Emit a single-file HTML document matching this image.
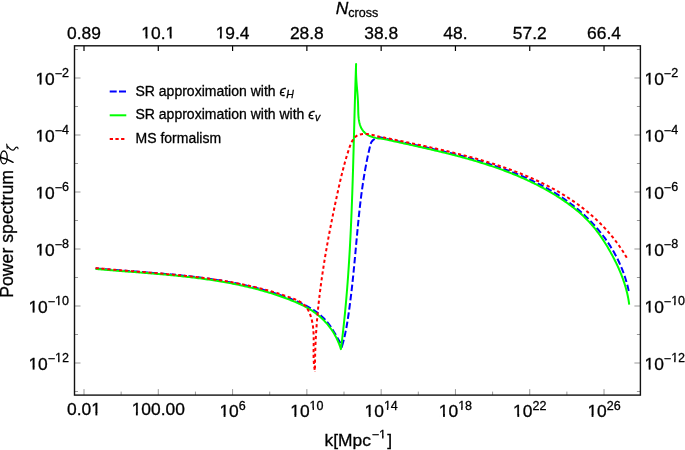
<!DOCTYPE html>
<html><head><meta charset="utf-8"><style>
html,body{margin:0;padding:0;background:#fff;width:685px;height:450px;overflow:hidden;font-family:"Liberation Sans", sans-serif;}
svg{display:block;will-change:transform}
text{stroke:#000;stroke-width:0.3px}
</style></head><body>
<svg width="685" height="450" viewBox="0 0 685 450" font-family='"Liberation Sans", sans-serif'>
<rect width="685" height="450" fill="#fff"/>
<line x1="84.00" y1="395.1" x2="84.00" y2="389.1" stroke="#999" stroke-width="1"/>
<line x1="84.00" y1="45.8" x2="84.00" y2="51.0" stroke="#000" stroke-width="1.2"/>
<line x1="121.15" y1="395.1" x2="121.15" y2="391.6" stroke="#999" stroke-width="1"/>
<line x1="158.29" y1="395.1" x2="158.29" y2="389.1" stroke="#999" stroke-width="1"/>
<line x1="158.29" y1="45.8" x2="158.29" y2="51.0" stroke="#000" stroke-width="1.2"/>
<line x1="195.44" y1="395.1" x2="195.44" y2="391.6" stroke="#999" stroke-width="1"/>
<line x1="232.58" y1="395.1" x2="232.58" y2="389.1" stroke="#999" stroke-width="1"/>
<line x1="232.58" y1="45.8" x2="232.58" y2="51.0" stroke="#000" stroke-width="1.2"/>
<line x1="269.73" y1="395.1" x2="269.73" y2="391.6" stroke="#999" stroke-width="1"/>
<line x1="306.87" y1="395.1" x2="306.87" y2="389.1" stroke="#999" stroke-width="1"/>
<line x1="306.87" y1="45.8" x2="306.87" y2="51.0" stroke="#000" stroke-width="1.2"/>
<line x1="344.01" y1="395.1" x2="344.01" y2="391.6" stroke="#999" stroke-width="1"/>
<line x1="381.16" y1="395.1" x2="381.16" y2="389.1" stroke="#999" stroke-width="1"/>
<line x1="381.16" y1="45.8" x2="381.16" y2="51.0" stroke="#000" stroke-width="1.2"/>
<line x1="418.31" y1="395.1" x2="418.31" y2="391.6" stroke="#999" stroke-width="1"/>
<line x1="455.45" y1="395.1" x2="455.45" y2="389.1" stroke="#999" stroke-width="1"/>
<line x1="455.45" y1="45.8" x2="455.45" y2="51.0" stroke="#000" stroke-width="1.2"/>
<line x1="492.60" y1="395.1" x2="492.60" y2="391.6" stroke="#999" stroke-width="1"/>
<line x1="529.74" y1="395.1" x2="529.74" y2="389.1" stroke="#999" stroke-width="1"/>
<line x1="529.74" y1="45.8" x2="529.74" y2="51.0" stroke="#000" stroke-width="1.2"/>
<line x1="566.88" y1="395.1" x2="566.88" y2="391.6" stroke="#999" stroke-width="1"/>
<line x1="604.03" y1="395.1" x2="604.03" y2="389.1" stroke="#999" stroke-width="1"/>
<line x1="604.03" y1="45.8" x2="604.03" y2="51.0" stroke="#000" stroke-width="1.2"/>
<line x1="74.5" y1="49.50" x2="78.0" y2="49.50" stroke="#999" stroke-width="1"/>
<line x1="640.4" y1="49.50" x2="636.9" y2="49.50" stroke="#999" stroke-width="1"/>
<line x1="74.5" y1="78.00" x2="80.5" y2="78.00" stroke="#999" stroke-width="1"/>
<line x1="640.4" y1="78.00" x2="634.4" y2="78.00" stroke="#999" stroke-width="1"/>
<line x1="74.5" y1="106.50" x2="78.0" y2="106.50" stroke="#999" stroke-width="1"/>
<line x1="640.4" y1="106.50" x2="636.9" y2="106.50" stroke="#999" stroke-width="1"/>
<line x1="74.5" y1="135.00" x2="80.5" y2="135.00" stroke="#999" stroke-width="1"/>
<line x1="640.4" y1="135.00" x2="634.4" y2="135.00" stroke="#999" stroke-width="1"/>
<line x1="74.5" y1="163.50" x2="78.0" y2="163.50" stroke="#999" stroke-width="1"/>
<line x1="640.4" y1="163.50" x2="636.9" y2="163.50" stroke="#999" stroke-width="1"/>
<line x1="74.5" y1="192.00" x2="80.5" y2="192.00" stroke="#999" stroke-width="1"/>
<line x1="640.4" y1="192.00" x2="634.4" y2="192.00" stroke="#999" stroke-width="1"/>
<line x1="74.5" y1="220.50" x2="78.0" y2="220.50" stroke="#999" stroke-width="1"/>
<line x1="640.4" y1="220.50" x2="636.9" y2="220.50" stroke="#999" stroke-width="1"/>
<line x1="74.5" y1="249.00" x2="80.5" y2="249.00" stroke="#999" stroke-width="1"/>
<line x1="640.4" y1="249.00" x2="634.4" y2="249.00" stroke="#999" stroke-width="1"/>
<line x1="74.5" y1="277.50" x2="78.0" y2="277.50" stroke="#999" stroke-width="1"/>
<line x1="640.4" y1="277.50" x2="636.9" y2="277.50" stroke="#999" stroke-width="1"/>
<line x1="74.5" y1="306.00" x2="80.5" y2="306.00" stroke="#999" stroke-width="1"/>
<line x1="640.4" y1="306.00" x2="634.4" y2="306.00" stroke="#999" stroke-width="1"/>
<line x1="74.5" y1="334.50" x2="78.0" y2="334.50" stroke="#999" stroke-width="1"/>
<line x1="640.4" y1="334.50" x2="636.9" y2="334.50" stroke="#999" stroke-width="1"/>
<line x1="74.5" y1="363.00" x2="80.5" y2="363.00" stroke="#999" stroke-width="1"/>
<line x1="640.4" y1="363.00" x2="634.4" y2="363.00" stroke="#999" stroke-width="1"/>
<line x1="74.5" y1="391.50" x2="78.0" y2="391.50" stroke="#999" stroke-width="1"/>
<line x1="640.4" y1="391.50" x2="636.9" y2="391.50" stroke="#999" stroke-width="1"/>
<rect x="74.5" y="45.8" width="565.90" height="349.30" fill="none" stroke="#111" stroke-width="1.4"/>
<path d="M95.60,268.40 97.10,268.53 98.60,268.66 100.10,268.79 101.60,268.92 103.10,269.04 104.60,269.17 106.10,269.29 107.61,269.41 109.11,269.53 110.62,269.65 112.13,269.77 113.63,269.89 115.14,270.01 116.65,270.12 118.16,270.24 119.67,270.35 121.18,270.47 122.69,270.58 124.20,270.70 125.71,270.81 127.22,270.92 128.74,271.04 130.25,271.15 131.76,271.26 133.28,271.37 134.79,271.49 136.31,271.60 137.82,271.71 139.34,271.83 140.85,271.94 142.37,272.06 143.89,272.17 145.40,272.29 146.92,272.41 148.44,272.52 149.95,272.64 151.47,272.76 152.99,272.88 154.50,273.01 156.02,273.13 157.54,273.25 159.06,273.38 160.57,273.51 162.09,273.63 163.61,273.76 165.12,273.90 166.64,274.03 168.16,274.16 169.67,274.30 171.19,274.44 172.71,274.58 174.22,274.73 175.74,274.87 177.25,275.02 178.77,275.17 180.28,275.32 181.80,275.47 183.31,275.63 184.82,275.79 186.34,275.95 187.85,276.12 189.36,276.29 190.87,276.46 192.38,276.63 193.90,276.81 195.41,276.99 196.91,277.17 198.42,277.36 199.93,277.55 201.44,277.75 202.95,277.94 204.45,278.14 205.96,278.35 207.46,278.56 208.96,278.77 210.47,278.98 211.97,279.20 213.47,279.43 214.97,279.65 216.47,279.89 217.97,280.12 219.47,280.36 220.96,280.61 222.46,280.86 223.95,281.11 225.45,281.37 226.94,281.64 228.43,281.90 229.92,282.18 231.41,282.46 232.90,282.74 234.38,283.03 235.87,283.32 237.35,283.62 238.84,283.92 240.32,284.23 241.80,284.55 243.28,284.87 244.75,285.19 246.23,285.52 247.70,285.86 249.18,286.20 250.65,286.55 252.12,286.91 253.59,287.27 255.06,287.64 256.52,288.01 257.99,288.39 259.45,288.78 260.91,289.17 262.37,289.57 263.83,289.97 265.28,290.39 266.74,290.81 268.19,291.23 269.64,291.66 271.09,292.10 272.53,292.55 273.98,293.00 275.42,293.47 276.86,293.93 278.30,294.41 279.74,294.89 281.18,295.38 282.61,295.88 284.04,296.39 285.47,296.90 286.90,297.42 288.33,297.95 289.75,298.49 291.17,299.03 292.59,299.59 294.00,300.15 295.41,300.72 296.82,301.31 298.21,301.91 299.60,302.52 300.99,303.15 302.36,303.79 303.72,304.45 305.07,305.12 306.41,305.82 307.74,306.53 309.05,307.26 310.35,308.02 311.64,308.79 312.91,309.59 314.16,310.41 315.39,311.26 316.60,312.13 317.80,313.03 318.97,313.95 320.12,314.90 321.25,315.89 322.36,316.90 323.44,317.95 324.50,319.02 325.53,320.13 326.54,321.27 327.51,322.45 328.46,323.66 329.39,324.90 330.29,326.17 331.17,327.46 332.02,328.77 332.86,330.09 333.69,331.43 334.49,332.77 335.29,334.12 336.07,335.46 336.84,336.81 337.60,338.14 338.36,339.47 339.11,340.78 339.86,342.07 340.60,343.34 341.35,344.59 342.10,345.80 342.53,344.36 342.95,342.91 343.34,341.46 343.72,340.00 344.09,338.54 344.44,337.07 344.78,335.60 345.10,334.13 345.41,332.65 345.71,331.17 346.00,329.69 346.28,328.21 346.55,326.72 346.82,325.23 347.07,323.74 347.32,322.25 347.56,320.75 347.79,319.25 348.02,317.76 348.24,316.26 348.46,314.76 348.68,313.26 348.89,311.76 349.11,310.25 349.31,308.75 349.52,307.25 349.72,305.74 349.92,304.24 350.11,302.73 350.30,301.22 350.49,299.72 350.68,298.21 350.86,296.70 351.05,295.19 351.23,293.68 351.40,292.17 351.58,290.66 351.75,289.15 351.92,287.64 352.09,286.13 352.26,284.62 352.42,283.10 352.58,281.59 352.74,280.08 352.90,278.56 353.06,277.05 353.21,275.53 353.37,274.02 353.52,272.51 353.67,270.99 353.82,269.47 353.97,267.96 354.12,266.44 354.26,264.93 354.41,263.41 354.55,261.90 354.70,260.38 354.84,258.86 354.98,257.35 355.12,255.83 355.26,254.31 355.40,252.80 355.54,251.28 355.68,249.76 355.82,248.25 355.96,246.73 356.10,245.22 356.23,243.70 356.37,242.18 356.51,240.67 356.65,239.15 356.79,237.64 356.93,236.12 357.07,234.61 357.21,233.09 357.35,231.58 357.50,230.06 357.64,228.55 357.79,227.04 357.93,225.52 358.08,224.01 358.23,222.50 358.38,220.98 358.53,219.47 358.68,217.96 358.84,216.45 359.00,214.94 359.16,213.42 359.32,211.91 359.48,210.40 359.65,208.89 359.82,207.38 359.99,205.87 360.16,204.37 360.34,202.86 360.52,201.35 360.70,199.84 360.89,198.34 361.07,196.83 361.27,195.32 361.46,193.82 361.66,192.31 361.86,190.81 362.07,189.31 362.28,187.80 362.49,186.30 362.71,184.80 362.93,183.30 363.16,181.80 363.39,180.30 363.62,178.80 363.86,177.30 364.10,175.80 364.35,174.30 364.61,172.81 364.86,171.31 365.13,169.81 365.39,168.32 365.67,166.83 365.95,165.33 366.23,163.84 366.52,162.35 366.82,160.86 367.12,159.37 367.42,157.88 367.74,156.39 368.05,154.91 368.38,153.42 368.71,151.93 369.05,150.45 369.39,148.96 369.74,147.48 370.10,146.00 370.29,144.90 370.58,143.87 370.98,142.91 371.47,142.02 372.04,141.21 372.69,140.48 373.41,139.82 374.20,139.25 375.05,138.75 375.94,138.34 376.87,138.01 377.84,137.77 378.84,137.61 379.86,137.54 380.89,137.57 381.93,137.68 382.96,137.89 383.99,138.20 385.00,138.60 386.47,138.91 387.95,139.23 389.42,139.54 390.90,139.85 392.37,140.17 393.84,140.48 395.32,140.79 396.79,141.10 398.27,141.42 399.74,141.73 401.22,142.04 402.69,142.36 404.17,142.67 405.64,142.98 407.11,143.30 408.59,143.61 410.06,143.93 411.54,144.24 413.01,144.56 414.48,144.88 415.96,145.20 417.43,145.52 418.91,145.84 420.38,146.16 421.85,146.48 423.32,146.81 424.80,147.13 426.27,147.46 427.74,147.79 429.21,148.12 430.69,148.45 432.16,148.79 433.63,149.12 435.10,149.46 436.57,149.80 438.04,150.14 439.51,150.49 440.98,150.83 442.45,151.18 443.91,151.53 445.38,151.88 446.85,152.24 448.32,152.60 449.78,152.96 451.25,153.32 452.71,153.69 454.18,154.06 455.64,154.43 457.11,154.81 458.57,155.19 460.03,155.57 461.50,155.96 462.96,156.34 464.42,156.74 465.88,157.13 467.34,157.53 468.80,157.93 470.25,158.34 471.71,158.75 473.17,159.17 474.62,159.58 476.08,160.01 477.53,160.43 478.99,160.86 480.44,161.30 481.89,161.74 483.34,162.18 484.79,162.63 486.24,163.08 487.69,163.54 489.14,164.00 490.59,164.47 492.03,164.94 493.48,165.42 494.92,165.90 496.36,166.39 497.80,166.88 499.24,167.38 500.68,167.88 502.12,168.39 503.55,168.90 504.98,169.42 506.41,169.95 507.84,170.48 509.27,171.01 510.69,171.56 512.11,172.10 513.53,172.66 514.95,173.22 516.36,173.79 517.77,174.36 519.18,174.94 520.58,175.53 521.98,176.12 523.38,176.72 524.77,177.33 526.16,177.94 527.55,178.57 528.93,179.19 530.31,179.83 531.68,180.47 533.05,181.12 534.42,181.78 535.78,182.44 537.14,183.12 538.49,183.80 539.84,184.48 541.18,185.18 542.52,185.88 543.86,186.59 545.19,187.31 546.51,188.04 547.83,188.78 549.14,189.52 550.45,190.28 551.75,191.04 553.04,191.81 554.33,192.58 555.61,193.37 556.89,194.17 558.16,194.97 559.43,195.79 560.69,196.61 561.94,197.44 563.18,198.28 564.42,199.14 565.65,200.00 566.88,200.87 568.09,201.75 569.30,202.64 570.51,203.53 571.70,204.44 572.89,205.36 574.07,206.29 575.24,207.23 576.41,208.18 577.56,209.14 578.71,210.11 579.85,211.09 580.98,212.08 582.11,213.08 583.22,214.08 584.33,215.10 585.42,216.13 586.51,217.17 587.59,218.22 588.66,219.28 589.71,220.34 590.76,221.42 591.80,222.51 592.83,223.60 593.85,224.71 594.86,225.82 595.86,226.95 596.85,228.08 597.82,229.22 598.79,230.37 599.74,231.53 600.69,232.70 601.62,233.88 602.54,235.07 603.45,236.27 604.35,237.47 605.23,238.69 606.11,239.91 606.97,241.14 607.82,242.38 608.66,243.63 609.48,244.89 610.29,246.15 611.09,247.43 611.88,248.71 612.65,250.00 613.41,251.30 614.15,252.61 614.89,253.93 615.61,255.25 616.31,256.58 617.00,257.92 617.68,259.27 618.34,260.63 618.99,261.99 619.62,263.37 620.24,264.75 620.84,266.13 621.43,267.53 622.00,268.93 622.56,270.34 623.10,271.76 623.63,273.19 624.14,274.62 624.64,276.07 625.12,277.51 625.58,278.97 626.03,280.43 626.46,281.91 626.87,283.38 627.27,284.87 627.65,286.36 628.01,287.86 628.36,289.37 628.69,290.88 629.00,292.40" fill="none" stroke="#0000ff" stroke-width="2" stroke-dasharray="6.5,2.8"/>
<path d="M95.60,268.90 97.10,269.04 98.59,269.17 100.09,269.30 101.59,269.44 103.09,269.57 104.59,269.70 106.09,269.82 107.59,269.95 109.09,270.08 110.60,270.20 112.10,270.32 113.61,270.45 115.11,270.57 116.62,270.69 118.13,270.81 119.64,270.93 121.14,271.05 122.65,271.17 124.16,271.28 125.68,271.40 127.19,271.52 128.70,271.64 130.21,271.75 131.72,271.87 133.24,271.99 134.75,272.11 136.27,272.22 137.78,272.34 139.29,272.46 140.81,272.58 142.33,272.70 143.84,272.82 145.36,272.94 146.87,273.06 148.39,273.18 149.91,273.30 151.42,273.43 152.94,273.55 154.46,273.68 155.97,273.81 157.49,273.94 159.01,274.07 160.53,274.20 162.04,274.33 163.56,274.46 165.08,274.60 166.59,274.74 168.11,274.88 169.63,275.02 171.14,275.16 172.66,275.31 174.17,275.46 175.69,275.60 177.20,275.76 178.72,275.91 180.23,276.07 181.75,276.23 183.26,276.39 184.77,276.55 186.29,276.72 187.80,276.89 189.31,277.06 190.82,277.24 192.33,277.42 193.84,277.60 195.35,277.78 196.86,277.97 198.37,278.16 199.88,278.36 201.38,278.56 202.89,278.76 204.39,278.96 205.90,279.17 207.40,279.39 208.91,279.60 210.41,279.82 211.91,280.05 213.41,280.28 214.91,280.51 216.40,280.75 217.90,280.99 219.40,281.23 220.89,281.48 222.39,281.74 223.88,282.00 225.37,282.26 226.86,282.53 228.35,282.80 229.84,283.08 231.32,283.36 232.81,283.65 234.29,283.95 235.78,284.25 237.26,284.55 238.74,284.86 240.22,285.17 241.69,285.49 243.17,285.82 244.64,286.15 246.12,286.49 247.59,286.83 249.06,287.18 250.52,287.54 251.99,287.90 253.46,288.26 254.92,288.64 256.38,289.02 257.84,289.40 259.30,289.79 260.75,290.19 262.21,290.60 263.66,291.01 265.11,291.43 266.56,291.85 268.01,292.29 269.45,292.72 270.89,293.17 272.34,293.62 273.77,294.08 275.21,294.55 276.65,295.03 278.08,295.51 279.51,296.00 280.94,296.50 282.36,297.00 283.79,297.51 285.21,298.03 286.63,298.56 288.05,299.10 289.46,299.64 290.88,300.20 292.29,300.76 293.69,301.33 295.09,301.91 296.49,302.50 297.88,303.11 299.26,303.73 300.63,304.37 302.00,305.02 303.35,305.69 304.70,306.38 306.03,307.09 307.35,307.82 308.66,308.57 309.95,309.34 311.23,310.14 312.50,310.96 313.74,311.81 314.97,312.68 316.18,313.58 317.38,314.51 318.55,315.46 319.70,316.43 320.84,317.44 321.95,318.46 323.04,319.51 324.11,320.59 325.15,321.69 326.17,322.81 327.17,323.95 328.14,325.12 329.08,326.31 330.00,327.52 330.90,328.75 331.77,330.00 332.61,331.27 333.42,332.55 334.21,333.85 334.96,335.17 335.69,336.51 336.39,337.86 337.06,339.22 337.70,340.60 338.31,341.99 338.89,343.39 339.44,344.80 339.96,346.23 340.45,347.66 340.90,349.10 341.10,347.60 341.29,346.10 341.47,344.60 341.66,343.10 341.85,341.60 342.03,340.11 342.21,338.61 342.39,337.11 342.56,335.60 342.74,334.10 342.91,332.60 343.08,331.10 343.25,329.60 343.41,328.10 343.58,326.60 343.74,325.10 343.90,323.60 344.06,322.09 344.22,320.59 344.37,319.09 344.53,317.59 344.68,316.08 344.83,314.58 344.97,313.08 345.12,311.58 345.26,310.07 345.41,308.57 345.55,307.06 345.69,305.56 345.82,304.06 345.96,302.55 346.09,301.05 346.23,299.54 346.36,298.04 346.49,296.53 346.61,295.03 346.74,293.52 346.86,292.02 346.99,290.51 347.11,289.01 347.23,287.50 347.34,286.00 347.46,284.49 347.58,282.99 347.69,281.48 347.80,279.97 347.91,278.47 348.02,276.96 348.13,275.45 348.24,273.95 348.34,272.44 348.44,270.93 348.55,269.43 348.65,267.92 348.75,266.41 348.84,264.90 348.94,263.40 349.04,261.89 349.13,260.38 349.22,258.87 349.32,257.36 349.41,255.86 349.50,254.35 349.58,252.84 349.67,251.33 349.76,249.82 349.84,248.31 349.93,246.80 350.01,245.29 350.09,243.79 350.17,242.28 350.25,240.77 350.33,239.26 350.40,237.75 350.48,236.24 350.55,234.73 350.63,233.22 350.70,231.71 350.77,230.20 350.84,228.69 350.91,227.18 350.98,225.67 351.05,224.16 351.12,222.65 351.19,221.14 351.25,219.63 351.32,218.12 351.38,216.61 351.44,215.10 351.51,213.59 351.57,212.08 351.63,210.57 351.69,209.06 351.75,207.54 351.80,206.03 351.86,204.52 351.92,203.01 351.98,201.50 352.03,199.99 352.09,198.48 352.14,196.97 352.19,195.46 352.25,193.94 352.30,192.43 352.35,190.92 352.40,189.41 352.45,187.90 352.50,186.39 352.55,184.88 352.60,183.36 352.65,181.85 352.70,180.34 352.74,178.83 352.79,177.32 352.84,175.81 352.88,174.30 352.93,172.78 352.98,171.27 353.02,169.76 353.07,168.25 353.11,166.74 353.15,165.23 353.20,163.71 353.24,162.20 353.28,160.69 353.33,159.18 353.37,157.67 353.41,156.15 353.45,154.64 353.50,153.13 353.54,151.62 353.58,150.11 353.62,148.60 353.66,147.08 353.70,145.57 353.74,144.06 353.78,142.55 353.82,141.04 353.86,139.53 353.90,138.01 353.94,136.50 353.98,134.99 354.02,133.48 354.07,131.97 354.11,130.46 354.15,128.94 354.19,127.43 354.23,125.92 354.27,124.41 354.31,122.90 354.35,121.39 354.39,119.88 354.43,118.36 354.47,116.85 354.51,115.34 354.55,113.83 354.59,112.32 354.63,110.81 354.68,109.30 354.72,107.79 354.76,106.28 354.80,104.77 354.85,103.25 354.89,101.74 354.93,100.23 354.98,98.72 355.02,97.21 355.06,95.70 355.11,94.19 355.15,92.68 355.20,91.17 355.25,89.66 355.29,88.15 355.34,86.64 355.39,85.13 355.43,83.62 355.48,82.11 355.53,80.60 355.58,79.09 355.63,77.58 355.68,76.07 355.73,74.56 355.78,73.05 355.83,71.54 355.88,70.04 355.94,68.53 355.99,67.02 356.05,65.51 356.10,64.00 356.04,65.63 356.00,67.24 355.99,68.84 355.99,70.41 356.01,71.97 356.05,73.51 356.10,75.04 356.17,76.55 356.25,78.06 356.34,79.56 356.43,81.05 356.54,82.53 356.65,84.02 356.77,85.49 356.89,86.97 357.02,88.45 357.14,89.93 357.27,91.42 357.39,92.91 357.50,94.41 357.62,95.91 357.72,97.43 357.82,98.96 357.91,100.50 357.99,102.06 358.05,103.63 358.10,105.23 358.14,106.83 358.18,108.46 358.21,110.09 358.25,111.72 358.31,113.35 358.40,114.97 358.51,116.57 358.66,118.16 358.86,119.72 359.11,121.25 359.42,122.75 359.80,124.20 360.25,125.61 360.78,126.97 361.40,128.27 362.12,129.51 362.94,130.68 363.86,131.78 364.88,132.80 365.99,133.75 367.18,134.60 368.46,135.37 369.82,136.05 371.24,136.62 372.73,137.11 374.25,137.52 375.81,137.86 377.39,138.15 378.96,138.40 380.53,138.61 382.06,138.81 383.56,139.00 385.00,139.20 386.45,139.53 387.91,139.85 389.36,140.18 390.82,140.50 392.28,140.83 393.74,141.15 395.20,141.48 396.66,141.80 398.12,142.12 399.59,142.45 401.05,142.77 402.52,143.09 403.98,143.42 405.45,143.74 406.92,144.07 408.39,144.39 409.86,144.72 411.33,145.04 412.80,145.37 414.27,145.70 415.75,146.03 417.22,146.36 418.69,146.69 420.16,147.02 421.64,147.35 423.11,147.68 424.59,148.02 426.06,148.36 427.53,148.69 429.01,149.03 430.48,149.37 431.96,149.72 433.43,150.06 434.91,150.41 436.38,150.76 437.86,151.11 439.33,151.46 440.80,151.81 442.27,152.17 443.75,152.53 445.22,152.89 446.69,153.25 448.16,153.62 449.63,153.99 451.10,154.36 452.57,154.73 454.04,155.11 455.51,155.49 456.97,155.87 458.44,156.26 459.90,156.65 461.37,157.04 462.83,157.44 464.29,157.84 465.75,158.24 467.21,158.65 468.67,159.06 470.13,159.47 471.58,159.89 473.03,160.31 474.49,160.73 475.94,161.16 477.39,161.60 478.84,162.03 480.28,162.47 481.73,162.92 483.17,163.37 484.61,163.82 486.05,164.28 487.49,164.75 488.92,165.22 490.36,165.69 491.79,166.17 493.22,166.65 494.64,167.14 496.07,167.63 497.49,168.13 498.91,168.63 500.33,169.14 501.75,169.65 503.16,170.17 504.57,170.70 505.98,171.23 507.39,171.77 508.79,172.31 510.19,172.86 511.59,173.41 512.98,173.97 514.38,174.54 515.77,175.11 517.15,175.69 518.54,176.27 519.92,176.86 521.30,177.46 522.67,178.06 524.04,178.67 525.41,179.29 526.78,179.91 528.14,180.55 529.50,181.18 530.85,181.83 532.20,182.48 533.55,183.14 534.90,183.81 536.24,184.48 537.57,185.16 538.91,185.85 540.24,186.54 541.56,187.25 542.89,187.96 544.21,188.68 545.52,189.41 546.83,190.14 548.14,190.88 549.44,191.63 550.74,192.39 552.03,193.16 553.33,193.94 554.61,194.72 555.89,195.51 557.17,196.31 558.44,197.12 559.71,197.94 560.98,198.77 562.24,199.61 563.49,200.45 564.74,201.30 565.98,202.17 567.22,203.04 568.45,203.93 569.67,204.82 570.88,205.72 572.09,206.63 573.29,207.56 574.48,208.49 575.66,209.44 576.83,210.39 577.98,211.36 579.13,212.34 580.27,213.33 581.40,214.33 582.51,215.35 583.62,216.37 584.71,217.41 585.78,218.46 586.85,219.52 587.90,220.60 588.93,221.68 589.95,222.79 590.96,223.90 591.95,225.03 592.92,226.17 593.88,227.32 594.83,228.48 595.77,229.65 596.69,230.84 597.60,232.04 598.49,233.24 599.38,234.46 600.25,235.69 601.11,236.92 601.96,238.17 602.79,239.42 603.62,240.69 604.44,241.96 605.24,243.24 606.04,244.52 606.82,245.81 607.60,247.11 608.37,248.42 609.12,249.73 609.87,251.05 610.62,252.38 611.35,253.71 612.08,255.04 612.79,256.38 613.50,257.72 614.20,259.07 614.88,260.43 615.56,261.79 616.23,263.15 616.88,264.52 617.53,265.90 618.16,267.28 618.78,268.66 619.38,270.05 619.98,271.44 620.56,272.84 621.12,274.24 621.68,275.65 622.22,277.06 622.74,278.47 623.25,279.89 623.74,281.31 624.22,282.74 624.68,284.17 625.12,285.61 625.55,287.05 625.96,288.49 626.35,289.94 626.72,291.39 627.08,292.84 627.41,294.30 627.73,295.76 628.03,297.22 628.30,298.69 628.56,300.16 628.79,301.64 629.01,303.12 629.20,304.60" fill="none" stroke="#00ff00" stroke-width="2" stroke-linejoin="round"/>
<path d="M95.60,268.00 97.09,268.15 98.59,268.29 100.08,268.44 101.58,268.58 103.08,268.72 104.57,268.86 106.07,269.00 107.57,269.13 109.07,269.27 110.57,269.40 112.07,269.53 113.57,269.66 115.07,269.79 116.57,269.92 118.07,270.04 119.57,270.17 121.07,270.29 122.58,270.42 124.08,270.54 125.58,270.67 127.09,270.79 128.59,270.91 130.10,271.03 131.60,271.15 133.11,271.27 134.61,271.39 136.12,271.51 137.62,271.63 139.13,271.75 140.63,271.87 142.14,271.99 143.65,272.12 145.15,272.24 146.66,272.36 148.17,272.48 149.67,272.60 151.18,272.72 152.69,272.85 154.19,272.97 155.70,273.10 157.21,273.22 158.71,273.35 160.22,273.48 161.73,273.61 163.23,273.74 164.74,273.87 166.25,274.01 167.75,274.14 169.26,274.28 170.77,274.41 172.27,274.55 173.78,274.69 175.28,274.84 176.79,274.98 178.29,275.13 179.80,275.28 181.30,275.43 182.80,275.58 184.31,275.74 185.81,275.89 187.31,276.05 188.82,276.22 190.32,276.38 191.82,276.55 193.32,276.72 194.82,276.89 196.32,277.07 197.82,277.25 199.32,277.43 200.82,277.61 202.32,277.80 203.82,277.99 205.31,278.19 206.81,278.39 208.31,278.59 209.80,278.79 211.30,279.00 212.79,279.21 214.28,279.43 215.78,279.65 217.27,279.87 218.76,280.10 220.25,280.33 221.74,280.57 223.23,280.81 224.72,281.05 226.20,281.30 227.69,281.55 229.17,281.81 230.66,282.07 232.14,282.34 233.62,282.61 235.11,282.88 236.59,283.17 238.07,283.45 239.55,283.74 241.02,284.04 242.50,284.34 243.98,284.65 245.45,284.96 246.93,285.27 248.40,285.60 249.87,285.92 251.34,286.26 252.81,286.60 254.28,286.94 255.74,287.29 257.21,287.65 258.68,288.01 260.14,288.38 261.60,288.75 263.06,289.14 264.52,289.52 265.98,289.92 267.44,290.32 268.89,290.72 270.35,291.14 271.80,291.55 273.25,291.98 274.70,292.41 276.15,292.85 277.60,293.30 279.04,293.76 280.49,294.22 281.93,294.68 283.37,295.16 284.81,295.64 286.25,296.13 287.68,296.63 289.12,297.14 290.55,297.65 291.98,298.17 293.40,298.71 294.80,299.27 296.18,299.87 297.53,300.49 298.85,301.16 300.12,301.88 301.35,302.66 302.52,303.49 303.63,304.40 304.67,305.37 305.64,306.43 306.54,307.57 307.36,308.78 308.12,310.06 308.81,311.38 309.44,312.76 310.02,314.16 310.54,315.60 311.00,317.05 311.43,318.52 311.80,319.99 312.14,321.48 312.43,322.97 312.69,324.47 312.91,325.98 313.09,327.50 313.25,329.02 313.38,330.55 313.48,332.08 313.57,333.62 313.62,335.16 313.67,336.71 313.69,338.25 313.70,339.80 313.70,341.35 313.69,342.90 313.68,344.45 313.66,345.99 313.63,347.54 313.61,349.08 313.59,350.62 313.58,352.16 313.58,353.69 313.58,355.22 313.60,356.74 313.63,358.26 313.68,359.77 313.75,361.27 313.85,362.76 313.96,364.24 314.11,365.72 314.28,367.18 314.49,368.63 314.72,370.07 315.00,371.50" fill="none" stroke="#ff0000" stroke-width="2" stroke-dasharray="3.2,2.7"/>
<path d="M315.00,371.50 314.99,369.98 314.99,368.47 314.99,366.95 314.99,365.43 315.00,363.92 315.01,362.40 315.03,360.89 315.05,359.37 315.08,357.85 315.11,356.34 315.14,354.82 315.18,353.31 315.22,351.79 315.27,350.28 315.32,348.76 315.38,347.25 315.44,345.73 315.50,344.22 315.57,342.70 315.64,341.19 315.71,339.68 315.79,338.16 315.88,336.65 315.96,335.14 316.06,333.62 316.15,332.11 316.25,330.60 316.35,329.08 316.46,327.57 316.57,326.06 316.68,324.55 316.80,323.04 316.92,321.53 317.04,320.01 317.17,318.50 317.30,316.99 317.44,315.48 317.58,313.97 317.72,312.46 317.86,310.95 318.01,309.44 318.16,307.94 318.32,306.43 318.48,304.92 318.64,303.41 318.80,301.90 318.97,300.40 319.14,298.89 319.32,297.38 319.50,295.88 319.68,294.37 319.86,292.86 320.05,291.36 320.24,289.85 320.43,288.35 320.62,286.84 320.82,285.34 321.02,283.84 321.23,282.33 321.44,280.83 321.65,279.33 321.86,277.83 322.07,276.32 322.29,274.82 322.51,273.32 322.73,271.82 322.96,270.32 323.19,268.82 323.42,267.32 323.65,265.82 323.89,264.33 324.13,262.83 324.37,261.33 324.61,259.83 324.86,258.34 325.10,256.84 325.35,255.34 325.61,253.85 325.86,252.35 326.12,250.86 326.38,249.37 326.64,247.87 326.90,246.38 327.16,244.89 327.43,243.40 327.70,241.90 327.97,240.41 328.25,238.92 328.52,237.43 328.80,235.94 329.08,234.46 329.36,232.97 329.64,231.48 329.92,229.99 330.21,228.51 330.50,227.02 330.79,225.53 331.08,224.05 331.37,222.56 331.67,221.08 331.96,219.60 332.26,218.11 332.56,216.63 332.86,215.15 333.16,213.67 333.47,212.19 333.77,210.71 334.08,209.23 334.38,207.75 334.69,206.27 335.00,204.80 335.32,203.32 335.63,201.84 335.94,200.37 336.26,198.89 336.57,197.42 336.89,195.95 337.21,194.47 337.53,193.00 337.85,191.53 338.17,190.06 338.50,188.59 338.82,187.12 339.15,185.65 339.49,184.18 339.82,182.71 340.16,181.24 340.50,179.76 340.85,178.29 341.20,176.82 341.56,175.35 341.92,173.87 342.29,172.40 342.66,170.92 343.04,169.45 343.42,167.97 343.81,166.49 344.21,165.01 344.61,163.53 345.02,162.05 345.44,160.57 345.87,159.08 346.30,157.59 346.74,156.10 347.19,154.61 347.65,153.12 348.12,151.62 348.60,150.12 349.09,148.62 349.60,147.13 350.13,145.65 350.69,144.20 351.29,142.80 351.94,141.46 352.65,140.19 353.43,139.01 354.29,137.92 355.23,136.95 356.27,136.11 357.41,135.41 358.66,134.86 359.99,134.44 361.41,134.15 362.88,133.98 364.41,133.92 365.97,133.96 367.55,134.10 369.15,134.32 370.74,134.61 372.33,134.96 373.91,135.34 375.47,135.74 377.01,136.14 378.53,136.53 380.01,136.89 381.45,137.20 382.85,137.44 384.20,137.60 385.68,137.91 387.15,138.22 388.63,138.53 390.10,138.83 391.58,139.14 393.06,139.45 394.54,139.76 396.01,140.06 397.49,140.37 398.97,140.68 400.45,140.98 401.93,141.29 403.41,141.60 404.89,141.91 406.37,142.22 407.85,142.53 409.33,142.84 410.81,143.15 412.29,143.46 413.77,143.77 415.25,144.09 416.73,144.40 418.21,144.72 419.69,145.03 421.17,145.35 422.65,145.67 424.13,145.99 425.61,146.31 427.09,146.63 428.57,146.96 430.05,147.28 431.53,147.61 433.01,147.94 434.49,148.27 435.97,148.60 437.45,148.94 438.93,149.28 440.40,149.62 441.88,149.96 443.36,150.30 444.84,150.65 446.31,150.99 447.79,151.34 449.27,151.70 450.74,152.05 452.22,152.41 453.69,152.77 455.17,153.14 456.64,153.50 458.11,153.87 459.59,154.25 461.06,154.62 462.53,155.00 464.00,155.38 465.47,155.77 466.94,156.16 468.41,156.55 469.88,156.95 471.34,157.34 472.81,157.75 474.28,158.15 475.74,158.56 477.20,158.98 478.67,159.40 480.13,159.82 481.59,160.25 483.05,160.68 484.51,161.11 485.97,161.55 487.43,161.99 488.89,162.44 490.34,162.89 491.80,163.35 493.25,163.81 494.70,164.28 496.15,164.75 497.60,165.22 499.05,165.71 500.50,166.19 501.94,166.68 503.39,167.18 504.83,167.68 506.27,168.18 507.70,168.70 509.14,169.21 510.57,169.73 512.00,170.26 513.43,170.80 514.86,171.33 516.28,171.88 517.70,172.43 519.12,172.99 520.54,173.55 521.95,174.12 523.36,174.69 524.77,175.27 526.17,175.86 527.57,176.45 528.97,177.05 530.36,177.66 531.75,178.27 533.14,178.89 534.53,179.51 535.91,180.14 537.28,180.78 538.66,181.43 540.03,182.08 541.39,182.74 542.75,183.40 544.11,184.08 545.46,184.76 546.81,185.45 548.15,186.14 549.49,186.84 550.83,187.55 552.16,188.27 553.49,188.99 554.81,189.73 556.12,190.47 557.43,191.21 558.74,191.97 560.04,192.73 561.34,193.50 562.63,194.28 563.92,195.07 565.20,195.87 566.47,196.67 567.74,197.48 569.00,198.30 570.26,199.13 571.51,199.97 572.76,200.81 574.00,201.67 575.23,202.53 576.46,203.40 577.68,204.28 578.90,205.17 580.11,206.07 581.31,206.98 582.50,207.90 583.69,208.82 584.87,209.75 586.05,210.70 587.22,211.65 588.38,212.61 589.53,213.58 590.67,214.56 591.81,215.55 592.94,216.54 594.06,217.55 595.17,218.56 596.27,219.59 597.37,220.62 598.46,221.66 599.54,222.71 600.61,223.78 601.67,224.85 602.72,225.93 603.76,227.01 604.80,228.11 605.82,229.22 606.84,230.34 607.84,231.46 608.84,232.60 609.82,233.74 610.80,234.90 611.76,236.06 612.72,237.23 613.66,238.42 614.59,239.61 615.52,240.81 616.43,242.02 617.33,243.24 618.22,244.47 619.10,245.71 619.97,246.96 620.83,248.22 621.67,249.49 622.50,250.77 623.33,252.06 624.14,253.36 624.93,254.67 625.72,255.99 626.49,257.31 627.25,258.65 628.00,260.00" fill="none" stroke="#ff0000" stroke-width="2" stroke-dasharray="3.2,2.7" stroke-dashoffset="3.00"/>
<text x="84.00" y="415.4" font-size="17.4" text-anchor="middle">0.01</text>
<text x="158.29" y="415.4" font-size="17.4" text-anchor="middle">100.00</text>
<text x="232.58" y="416.9" font-size="17.4" text-anchor="middle">10<tspan dy="-7" font-size="12.5">6</tspan></text>
<text x="306.87" y="416.9" font-size="17.4" text-anchor="middle">10<tspan dy="-7" font-size="12.5">10</tspan></text>
<text x="381.16" y="416.9" font-size="17.4" text-anchor="middle">10<tspan dy="-7" font-size="12.5">14</tspan></text>
<text x="455.45" y="416.9" font-size="17.4" text-anchor="middle">10<tspan dy="-7" font-size="12.5">18</tspan></text>
<text x="529.74" y="416.9" font-size="17.4" text-anchor="middle">10<tspan dy="-7" font-size="12.5">22</tspan></text>
<text x="604.03" y="416.9" font-size="17.4" text-anchor="middle">10<tspan dy="-7" font-size="12.5">26</tspan></text>
<text x="84.00" y="38.5" font-size="17.4" text-anchor="middle">0.89</text>
<text x="158.29" y="38.5" font-size="17.4" text-anchor="middle">10.1</text>
<text x="232.58" y="38.5" font-size="17.4" text-anchor="middle">19.4</text>
<text x="306.87" y="38.5" font-size="17.4" text-anchor="middle">28.8</text>
<text x="381.16" y="38.5" font-size="17.4" text-anchor="middle">38.8</text>
<text x="455.45" y="38.5" font-size="17.4" text-anchor="middle">48.</text>
<text x="529.74" y="38.5" font-size="17.4" text-anchor="middle">57.2</text>
<text x="604.03" y="38.5" font-size="17.4" text-anchor="middle">66.4</text>
<text x="69" y="84.60" font-size="17.4" text-anchor="end">10<tspan dy="-6.5" font-size="12.5">&#8722;</tspan><tspan dy="-0.9" font-size="12.5">2</tspan></text>
<text x="644.5" y="84.60" font-size="17.4" text-anchor="start">10<tspan dy="-6.5" font-size="12.5">&#8722;</tspan><tspan dy="-0.9" font-size="12.5">2</tspan></text>
<text x="69" y="141.60" font-size="17.4" text-anchor="end">10<tspan dy="-6.5" font-size="12.5">&#8722;</tspan><tspan dy="-0.9" font-size="12.5">4</tspan></text>
<text x="644.5" y="141.60" font-size="17.4" text-anchor="start">10<tspan dy="-6.5" font-size="12.5">&#8722;</tspan><tspan dy="-0.9" font-size="12.5">4</tspan></text>
<text x="69" y="198.60" font-size="17.4" text-anchor="end">10<tspan dy="-6.5" font-size="12.5">&#8722;</tspan><tspan dy="-0.9" font-size="12.5">6</tspan></text>
<text x="644.5" y="198.60" font-size="17.4" text-anchor="start">10<tspan dy="-6.5" font-size="12.5">&#8722;</tspan><tspan dy="-0.9" font-size="12.5">6</tspan></text>
<text x="69" y="255.60" font-size="17.4" text-anchor="end">10<tspan dy="-6.5" font-size="12.5">&#8722;</tspan><tspan dy="-0.9" font-size="12.5">8</tspan></text>
<text x="644.5" y="255.60" font-size="17.4" text-anchor="start">10<tspan dy="-6.5" font-size="12.5">&#8722;</tspan><tspan dy="-0.9" font-size="12.5">8</tspan></text>
<text x="69" y="312.60" font-size="17.4" text-anchor="end">10<tspan dy="-6.5" font-size="12.5">&#8722;</tspan><tspan dy="-0.9" font-size="12.5">10</tspan></text>
<text x="644.5" y="312.60" font-size="17.4" text-anchor="start">10<tspan dy="-6.5" font-size="12.5">&#8722;</tspan><tspan dy="-0.9" font-size="12.5">10</tspan></text>
<text x="69" y="369.60" font-size="17.4" text-anchor="end">10<tspan dy="-6.5" font-size="12.5">&#8722;</tspan><tspan dy="-0.9" font-size="12.5">12</tspan></text>
<text x="644.5" y="369.60" font-size="17.4" text-anchor="start">10<tspan dy="-6.5" font-size="12.5">&#8722;</tspan><tspan dy="-0.9" font-size="12.5">12</tspan></text>
<text x="324.6" y="445.5" font-size="17.4">k[Mpc<tspan dx="0.8" dy="-6.1" font-size="12.5">&#8722;</tspan><tspan dy="-0.9" font-size="12.5">1</tspan><tspan dx="1.1" dy="7">]</tspan></text>
<text x="357" y="14" font-size="17.4" text-anchor="middle"><tspan font-style="italic">N</tspan><tspan dy="3" font-size="12.5">cross</tspan></text>
<g transform="translate(13.4,297.8) rotate(-90)"><text x="0" y="0" font-size="17.7">Power spectrum</text>
<g transform="translate(133.4,0)" fill="none" stroke="#000" stroke-linecap="round">
<ellipse cx="7" cy="-9.5" rx="6.4" ry="3.3" stroke-width="1.3"/>
<path d="M7.2,-13.5 C6.2,-9 4.8,-4.5 2,-0.3" stroke-width="1.3"/>
<path d="M16,-6.2 L20.4,-6.7 M18.6,-6.2 C16,-4 14,-1.8 14.3,-0.2 C14.6,1.5 17,1.5 17.3,3.2 C17.5,4.2 16.5,4.6 15.7,4.6" stroke-width="1.1"/>
</g></g>
<line x1="109.7" y1="91.5" x2="126.3" y2="91.5" stroke="#0000ff" stroke-width="2" stroke-dasharray="7,2.3"/>
<line x1="109.7" y1="115.3" x2="126.3" y2="115.3" stroke="#00ff00" stroke-width="2"/>
<line x1="109.7" y1="139" x2="126.3" y2="139" stroke="#ff0000" stroke-width="2" stroke-dasharray="3.3,2.4"/>
<text x="135.5" y="95.6" font-size="14">SR approximation with <tspan font-style="italic">&#1013;</tspan><tspan dx="0.5" dy="2" font-size="10.5" font-style="italic">H</tspan></text>
<text x="135.5" y="119.4" font-size="14">SR approximation with with <tspan font-style="italic">&#1013;</tspan><tspan dx="0.5" dy="2" font-size="10.5" font-style="italic">v</tspan></text>
<text x="135.5" y="143" font-size="14">MS formalism</text>
<!--m1--><g id="m1"><g fill="#fff"><rect x="91.57" y="413.00" width="9.61" height="4.00"/><rect x="132.01" y="413.00" width="9.60" height="4.00"/><rect x="219.76" y="414.50" width="9.60" height="4.00"/><rect x="290.57" y="414.50" width="9.60" height="4.00"/><rect x="309.54" y="407.87" width="7.49" height="3.63"/><rect x="364.86" y="414.50" width="9.60" height="4.00"/><rect x="383.83" y="407.87" width="7.49" height="3.63"/><rect x="439.15" y="414.50" width="9.60" height="4.00"/><rect x="458.12" y="407.87" width="7.49" height="3.63"/><rect x="513.44" y="414.50" width="9.60" height="4.00"/><rect x="587.73" y="414.50" width="9.60" height="4.00"/><rect x="141.68" y="36.10" width="9.60" height="4.00"/><rect x="165.86" y="36.10" width="9.61" height="4.00"/><rect x="215.97" y="36.10" width="9.60" height="4.00"/><rect x="35.72" y="82.20" width="9.60" height="4.00"/><rect x="644.82" y="82.20" width="9.60" height="4.00"/><rect x="35.72" y="139.20" width="9.60" height="4.00"/><rect x="644.82" y="139.20" width="9.60" height="4.00"/><rect x="35.72" y="196.20" width="9.60" height="4.00"/><rect x="644.82" y="196.20" width="9.60" height="4.00"/><rect x="35.72" y="253.20" width="9.60" height="4.00"/><rect x="644.82" y="253.20" width="9.60" height="4.00"/><rect x="28.76" y="310.20" width="9.60" height="4.00"/><rect x="55.05" y="303.17" width="7.49" height="3.63"/><rect x="644.82" y="310.20" width="9.60" height="4.00"/><rect x="671.11" y="303.17" width="7.49" height="3.63"/><rect x="28.76" y="367.20" width="9.60" height="4.00"/><rect x="55.05" y="360.17" width="7.49" height="3.63"/><rect x="644.82" y="367.20" width="9.60" height="4.00"/><rect x="671.11" y="360.17" width="7.49" height="3.63"/><rect x="379.06" y="436.47" width="7.49" height="3.63"/></g><g fill="#000"><rect x="95.47" y="412.50" width="1.84" height="2.90"/><rect x="135.91" y="412.50" width="1.84" height="2.90"/><rect x="223.65" y="414.00" width="1.84" height="2.90"/><rect x="294.47" y="414.00" width="1.84" height="2.90"/><rect x="312.58" y="407.37" width="1.40" height="2.53"/><rect x="368.76" y="414.00" width="1.84" height="2.90"/><rect x="386.87" y="407.37" width="1.40" height="2.53"/><rect x="443.05" y="414.00" width="1.84" height="2.90"/><rect x="461.16" y="407.37" width="1.40" height="2.53"/><rect x="517.34" y="414.00" width="1.84" height="2.90"/><rect x="591.63" y="414.00" width="1.84" height="2.90"/><rect x="145.58" y="35.60" width="1.84" height="2.90"/><rect x="169.76" y="35.60" width="1.84" height="2.90"/><rect x="219.87" y="35.60" width="1.84" height="2.90"/><rect x="39.61" y="81.70" width="1.84" height="2.90"/><rect x="648.72" y="81.70" width="1.84" height="2.90"/><rect x="39.61" y="138.70" width="1.84" height="2.90"/><rect x="648.72" y="138.70" width="1.84" height="2.90"/><rect x="39.61" y="195.70" width="1.84" height="2.90"/><rect x="648.72" y="195.70" width="1.84" height="2.90"/><rect x="39.61" y="252.70" width="1.84" height="2.90"/><rect x="648.72" y="252.70" width="1.84" height="2.90"/><rect x="32.66" y="309.70" width="1.84" height="2.90"/><rect x="58.09" y="302.67" width="1.40" height="2.53"/><rect x="648.72" y="309.70" width="1.84" height="2.90"/><rect x="674.15" y="302.67" width="1.40" height="2.53"/><rect x="32.66" y="366.70" width="1.84" height="2.90"/><rect x="58.09" y="359.67" width="1.40" height="2.53"/><rect x="648.72" y="366.70" width="1.84" height="2.90"/><rect x="674.15" y="359.67" width="1.40" height="2.53"/><rect x="382.10" y="435.97" width="1.40" height="2.53"/></g></g><!--/m1-->
</svg>
</body></html>
